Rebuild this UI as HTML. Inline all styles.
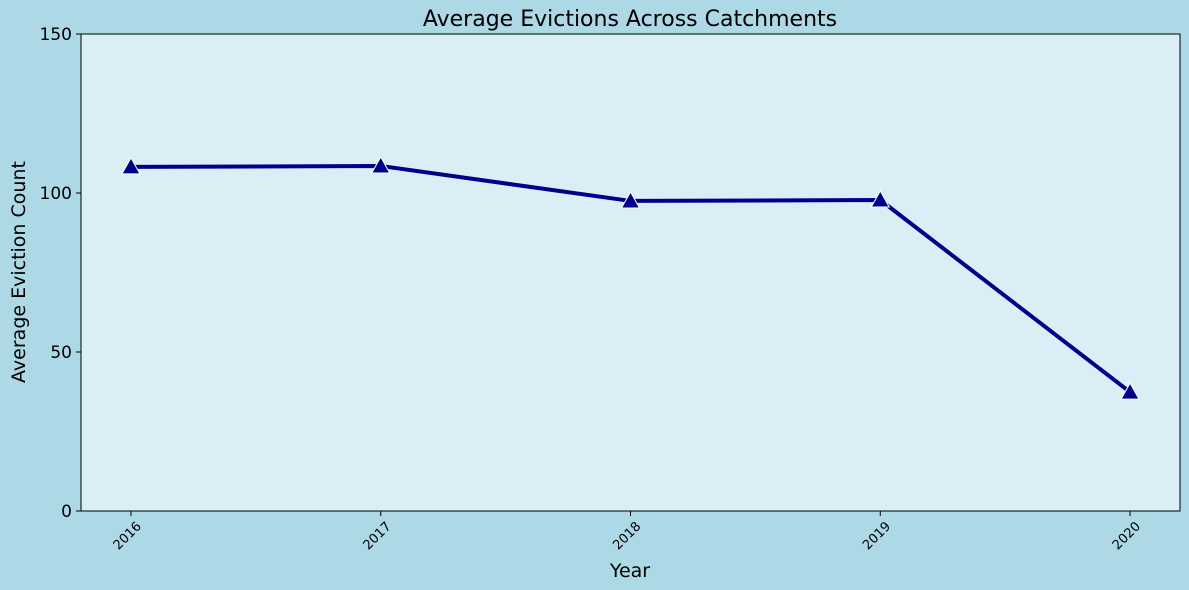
<!DOCTYPE html>
<html><head><meta charset="utf-8"><style>
html,body{margin:0;padding:0;background:#add8e6;}
svg{display:block;font-family:"DejaVu Sans","Liberation Sans",sans-serif;}
</style></head><body>
<svg id="chart" width="1189" height="590" xmlns="http://www.w3.org/2000/svg">
<rect width="1189" height="590" fill="#add8e6"/>
<rect x="81" y="34" width="1099" height="477" fill="#daeef5"/>
<text x="630" y="26" text-anchor="middle" font-size="22" fill="#000">Average Evictions Across Catchments</text>
<text x="630" y="577" text-anchor="middle" font-size="19" fill="#000">Year</text>
<text transform="translate(25,272) rotate(-90)" text-anchor="middle" font-size="19" fill="#000">Average Eviction Count</text>
<g id="axes"></g>
<g id="marks"></g>
<rect x="81" y="34" width="1099" height="477" fill="none" stroke="#000" stroke-width="1"/>
</svg>
<script>
const categories = ["2016","2017","2018","2019","2020"];
const values = [108.2, 108.5, 97.5, 97.8, 37.4];
const yTicks = [0, 50, 100, 150];

const L=81,R=1180,T=34,B=511;
const xs = i => L + (i + 0.2) / 4.4 * (R - L);
const ys = v => B - v / 150 * (B - T);
const NS="http://www.w3.org/2000/svg";
const axes=document.getElementById('axes'), marks=document.getElementById('marks');
function mk(tag, attrs, parent){const e=document.createElementNS(NS,tag);for(const k in attrs)e.setAttribute(k,attrs[k]);parent.appendChild(e);return e;}

yTicks.forEach(t=>{
  const y=ys(t);
  const tk=mk('line',{x1:L-5,x2:L,y1:y,y2:y,stroke:'#000'},axes);
  
  
  const tx=mk('text',{x:L-9,y:y+6,'text-anchor':'end','font-size':'17',fill:'#000'},axes);
  tx.textContent=t;
  
  
});
categories.forEach((c,i)=>{
  const x=xs(i);
  const tk=mk('line',{x1:x,x2:x,y1:B,y2:B+5,stroke:'#000'},axes);
  
  
  const tx=mk('text',{x:0,y:0,'text-anchor':'end','font-size':'13',fill:'#000',transform:`translate(${x+11},${B+16}) rotate(-45)`},axes);
  tx.textContent=c;
  
  
});
const pts=values.map((v,i)=>xs(i)+','+ys(v)).join(' ');
const line=mk('polyline',{points:pts,fill:'none',stroke:'#00008b','stroke-width':'4','stroke-linejoin':'round'},marks);


values.forEach((v,i)=>{
  const x=xs(i),y=ys(v);
  const p=mk('polygon',{points:`${x},${y-9} ${x-9},${y+7} ${x+9},${y+7}`,fill:'#00008b',stroke:'#fff','stroke-width':'1'},marks);
  
  
});
</script>
</body></html>
